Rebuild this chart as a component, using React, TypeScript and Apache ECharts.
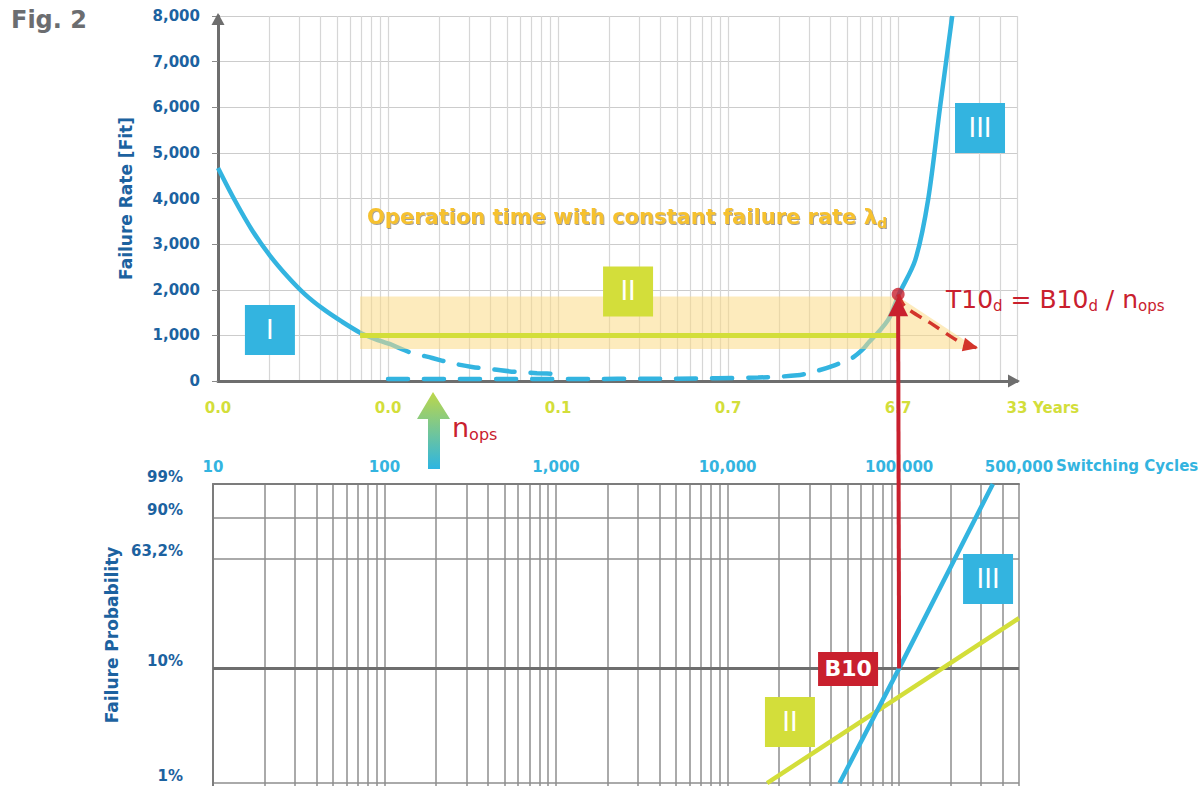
import React, { useEffect, useRef } from 'react';
import * as echarts from 'echarts';

const FONT = "'DejaVu Sans', sans-serif";
const BLUE = '#33b4e0';
const LIME = '#d3de3a';
const RED = '#c9202e';
const NAVY = '#1c62a0';
const AXIS_GRAY = '#6e6e6e';

// ---------------- data ----------------
const cycleTicks = [10, 100, 1000, 10000, 100000, 500000];
const cycleTickLabels = ['10', '100', '1,000', '10,000', '100,000', '500,000'];
const yearTickLabels = ['0.0', '0.0', '0.1', '0.7', '6.7', '33'];
const rateMax = 8000;
const rateStep = 1000;
const probTicks = [1, 10, 63.2, 90, 99];
const probTickLabels = ['1%', '10%', '63,2%', '90%', '99%'];

// failure rate [Fit] vs switching cycles
const phaseISolid: number[][] = [
  [10, 4670], [12.6, 3950], [15.9, 3300], [20.2, 2750], [25.8, 2280],
  [32.5, 1900], [41.5, 1580], [53.6, 1300], [68.5, 1060], [84, 920], [102.8, 810],
];
const phaseIDashed: number[][] = [
  [102.8, 810], [133, 636], [182, 504], [235, 395], [312, 307],
  [415, 255], [567, 197], [752, 172], [1028, 153],
];
const phaseIIIDashed: number[][] = [
  [100, 42], [1000, 45], [5000, 52], [15000, 75], [25500, 125],
  [31600, 197], [42600, 350], [53600, 504], [61400, 680], [66600, 833],
];
const phaseIIISolid: number[][] = [
  [66600, 833], [87300, 1340], [101000, 1900], [126000, 2650],
  [150000, 3970], [176500, 6010], [208000, 8000],
];
const lambdaDLine: number[][] = [[68.5, 1000], [100000, 1000]];
const bandPolygon: number[][] = [[68.5, 1850], [100000, 1850], [295000, 700], [68.5, 700]];
const t10Point: number[] = [100000, 1900];
const t10Arrow: number[][] = [
  [100000, 1900], [110000, 1630], [161000, 1230], [211000, 940], [248000, 790], [295000, 725],
];

// failure probability [%] vs switching cycles (Weibull paper)
const weibullIII: number[][] = [[45000, 1], [100000, 10], [352000, 99]];
const weibullII: number[][] = [[17000, 1], [500000, 25.5]];
const b10Point: number[] = [100000, 10];

// ---------------- helpers ----------------
const lx = (c: number) => Math.log10(c);
const wb = (p: number) => Math.log(-Math.log(1 - p / 100));
const X_MIN = lx(cycleTicks[0]);
const X_MAX = lx(cycleTicks[cycleTicks.length - 1]);
const P_MIN = -4.66;
const P_MAX = wb(probTicks[probTicks.length - 1]);

const minorCycles: number[] = [];
for (let e = 1; e <= 5; e++) {
  for (let k = 1; k <= 9; k++) {
    const v = k * Math.pow(10, e);
    if (v <= cycleTicks[cycleTicks.length - 1]) minorCycles.push(v);
  }
}

const labelFor = (labels: string[]) => (v: number) => {
  const i = cycleTicks.findIndex((c) => Math.abs(lx(c) - v) < 1e-6);
  return i < 0 ? '' : labels[i];
};
const probLabelFor = (v: number) => {
  const i = probTicks.findIndex((p) => Math.abs(wb(p) - v) < 1e-6);
  return i < 0 ? '' : probTickLabels[i];
};

const top = (arr: number[][]) => arr.map(([c, v]) => [lx(c), v]);
const bot = (arr: number[][]) => arr.map(([c, p]) => [lx(c), wb(p)]);

const boxLabel = (size: number, bold = false) => ({
  show: true,
  position: 'inside',
  formatter: '{b}',
  color: '#ffffff',
  fontSize: size,
  fontWeight: bold ? 'bold' : 'normal',
  fontFamily: FONT,
});

const SMOOTH = 0.3;

const option: any = {
  animation: false,
  backgroundColor: '#ffffff',
  textStyle: { fontFamily: FONT },
  grid: [
    { left: 218, top: 16, width: 799, height: 365, outerBoundsMode: 'none', containLabel: false },
    { left: 213, top: 484, width: 806, height: 302, outerBoundsMode: 'none', containLabel: false },
  ],
  xAxis: [
    {
      type: 'value', gridIndex: 0, min: X_MIN, max: X_MAX, position: 'bottom',
      axisLine: {
        show: true, onZero: false, lineStyle: { color: AXIS_GRAY, width: 3 },
        symbol: ['none', 'triangle'], symbolSize: [13, 12], symbolOffset: [0, -3],
      },
      axisTick: { show: false, customValues: minorCycles.map(lx) },
      axisLabel: {
        customValues: cycleTicks.map(lx), formatter: labelFor(yearTickLabels),
        color: LIME, fontSize: 15, fontWeight: 'bold', fontFamily: FONT, margin: 19,
      },
      splitLine: { show: true, lineStyle: { color: '#d6d6d6', width: 1.2 } },
    },
    {
      type: 'value', gridIndex: 1, min: X_MIN, max: X_MAX, position: 'top',
      axisLine: { show: true, onZero: false, lineStyle: { color: '#7c7c7c', width: 2 } },
      axisTick: { show: false, customValues: minorCycles.map(lx) },
      axisLabel: {
        customValues: cycleTicks.map(lx), formatter: labelFor(cycleTickLabels),
        color: BLUE, fontSize: 15, fontWeight: 'bold', fontFamily: FONT, margin: 10,
      },
      splitLine: { show: true, lineStyle: { color: '#8e8e8e', width: 1.5 } },
    },
  ],
  yAxis: [
    {
      type: 'value', gridIndex: 0, min: 0, max: rateMax, interval: rateStep,
      axisLine: {
        show: true, onZero: false, lineStyle: { color: AXIS_GRAY, width: 3 },
        symbol: ['none', 'triangle'], symbolSize: [13, 12], symbolOffset: [0, -3],
      },
      axisTick: { show: true, length: 6, lineStyle: { color: '#8a8a8a', width: 1 } },
      axisLabel: {
        color: NAVY, fontSize: 15, fontWeight: 'bold', fontFamily: FONT, margin: 18,
        formatter: (v: number) => v.toLocaleString('en-US'),
      },
      splitLine: { show: true, lineStyle: { color: '#cccccc', width: 1.2 } },
      name: 'Failure Rate [Fit]', nameLocation: 'middle', nameGap: 84,
      nameTextStyle: { color: NAVY, fontSize: 17, fontWeight: 'bold', fontFamily: FONT },
    },
    {
      type: 'value', gridIndex: 1, min: P_MIN, max: P_MAX,
      axisLine: { show: true, onZero: false, lineStyle: { color: '#7c7c7c', width: 2 } },
      axisTick: { show: false, customValues: probTicks.map(wb) },
      axisLabel: {
        customValues: probTicks.map(wb), formatter: probLabelFor,
        color: NAVY, fontSize: 15, fontWeight: 'bold', fontFamily: FONT, margin: 30,
        verticalAlign: 'bottom',
      },
      splitLine: { show: true, lineStyle: { color: '#8e8e8e', width: 1.5 } },
      name: 'Failure Probability', nameLocation: 'middle', nameGap: 92,
      nameTextStyle: { color: NAVY, fontSize: 17, fontWeight: 'bold', fontFamily: FONT },
    },
  ],
  series: [
    {
      name: 'Phase I', type: 'line', xAxisIndex: 0, yAxisIndex: 0, z: 2,
      data: top(phaseISolid), smooth: SMOOTH, symbol: 'none',
      lineStyle: { color: BLUE, width: 4.5 },
    },
    {
      name: 'Phase I (dashed)', type: 'line', xAxisIndex: 0, yAxisIndex: 0, z: 2,
      data: top(phaseIDashed), smooth: SMOOTH, symbol: 'none',
      lineStyle: { color: BLUE, width: 4.5, type: [20, 16], cap: 'round' },
    },
    {
      name: 'Phase III (dashed)', type: 'line', xAxisIndex: 0, yAxisIndex: 0, z: 2,
      data: top(phaseIIIDashed), smooth: SMOOTH, symbol: 'none',
      lineStyle: { color: BLUE, width: 4.5, type: [20, 16], cap: 'round' },
    },
    {
      name: 'Phase III', type: 'line', xAxisIndex: 0, yAxisIndex: 0, z: 2,
      data: top(phaseIIISolid), smooth: SMOOTH, symbol: 'none',
      lineStyle: { color: BLUE, width: 4.5 },
    },
    {
      name: 'band', type: 'custom', xAxisIndex: 0, yAxisIndex: 0, z: 3, silent: true,
      data: [[X_MIN, 0]],
      renderItem: (_p: any, api: any) => ({
        type: 'polygon',
        shape: { points: bandPolygon.map(([c, v]) => api.coord([lx(c), v])) },
        style: { fill: 'rgba(252,218,135,0.55)' },
      }),
    },
    {
      name: 'lambda d', type: 'line', xAxisIndex: 0, yAxisIndex: 0, z: 4,
      data: top(lambdaDLine), symbol: 'none',
      lineStyle: { color: LIME, width: 5 },
      markPoint: {
        symbol: 'rect', silent: true,
        data: [
          { name: 'I', coord: [lx(20.2), 1118], symbolSize: [50, 50], itemStyle: { color: BLUE }, label: boxLabel(26) },
          { name: 'II', coord: [lx(2580), 1963], symbolSize: [50, 50], itemStyle: { color: LIME }, label: boxLabel(26) },
          { name: 'III', coord: [lx(303000), 5545], symbolSize: [50, 50], itemStyle: { color: BLUE }, label: boxLabel(26) },
        ],
      },
    },
    {
      name: 'T10 shift', type: 'line', xAxisIndex: 0, yAxisIndex: 0, z: 5,
      data: top(t10Arrow), smooth: SMOOTH, symbol: 'none',
      lineStyle: { color: '#d3352b', width: 3.5, type: [13, 8] },
    },
    {
      name: 'T10 point', type: 'scatter', xAxisIndex: 0, yAxisIndex: 0, z: 5,
      data: [[lx(t10Point[0]), t10Point[1]]], symbolSize: 13,
      itemStyle: { color: RED },
    },
    {
      name: '10% line', type: 'line', xAxisIndex: 1, yAxisIndex: 1, z: 1,
      data: [[X_MIN, wb(b10Point[1])], [X_MAX, wb(b10Point[1])]], symbol: 'none',
      lineStyle: { color: '#6e6e6e', width: 3 },
    },
    {
      name: 'Weibull II', type: 'line', xAxisIndex: 1, yAxisIndex: 1, z: 3,
      data: bot(weibullII), symbol: 'none',
      lineStyle: { color: LIME, width: 4.5 },
      markPoint: {
        symbol: 'rect', silent: true,
        data: [
          { name: 'II', coord: [lx(23100), wb(3.45)], symbolSize: [50, 50], itemStyle: { color: LIME }, label: boxLabel(26) },
          { name: 'III', coord: [lx(330000), wb(48.2)], symbolSize: [50, 50], itemStyle: { color: BLUE }, label: boxLabel(26) },
          { name: 'B10', coord: [lx(50400), wb(9.9)], symbolSize: [60, 34], itemStyle: { color: RED }, label: boxLabel(22, true) },
        ],
      },
    },
    {
      name: 'Weibull III', type: 'line', xAxisIndex: 1, yAxisIndex: 1, z: 3,
      data: bot(weibullIII), symbol: 'none',
      lineStyle: { color: BLUE, width: 4.5 },
    },
  ],
};

export default function App() {
  const ref = useRef<HTMLDivElement>(null);
  useEffect(() => {
    document.body.style.margin = '0';
    const chart = echarts.init(ref.current as HTMLDivElement, null, { renderer: 'svg' });
    chart.setOption(option);

    const toTop = (c: number, v: number) =>
      chart.convertToPixel({ xAxisIndex: 0, yAxisIndex: 0 } as any, [lx(c), v]) as number[];
    const toBot = (c: number, p: number) =>
      chart.convertToPixel({ xAxisIndex: 1, yAxisIndex: 1 } as any, [lx(c), wb(p)]) as number[];

    const pB = toBot(b10Point[0], b10Point[1]);
    const pT = toTop(t10Point[0], t10Point[1]);
    const tipY = pT[1] + 2;
    const a1 = toTop(t10Arrow[t10Arrow.length - 2][0], t10Arrow[t10Arrow.length - 2][1]);
    const a2 = toTop(t10Arrow[t10Arrow.length - 1][0], t10Arrow[t10Arrow.length - 1][1]);
    const ang = Math.atan2(a2[1] - a1[1], a2[0] - a1[0]);
    const hl = 15, hw = 7;
    const bx = a2[0] - hl * Math.cos(ang), by = a2[1] - hl * Math.sin(ang);
    const nx = -Math.sin(ang), ny = Math.cos(ang);

    const topEnd = toTop(cycleTicks[cycleTicks.length - 1], 0);
    const botEnd = toBot(cycleTicks[cycleTicks.length - 1], probTicks[probTicks.length - 1]);

    const sub = (fs: number, bold = false, fill = RED) => ({
      fontSize: fs, lineHeight: 2, verticalAlign: 'bottom', fill, fontFamily: FONT,
      fontWeight: bold ? 'bold' : 'normal',
    });

    chart.setOption({
      graphic: [
        {
          type: 'text', z: 20,
          style: { text: 'Fig. 2', x: 11, y: 8, fill: '#6b6d70', fontSize: 24, fontWeight: 'bold', fontFamily: FONT, verticalAlign: 'top', textVerticalAlign: 'top' },
        },
        {
          type: 'text', z: 20,
          style: { text: 'Years', x: topEnd[0] + 16, y: topEnd[1] + 27, fill: LIME, fontSize: 15, fontWeight: 'bold', fontFamily: FONT, verticalAlign: 'middle', textVerticalAlign: 'middle' },
        },
        {
          type: 'text', z: 20,
          style: { text: 'Switching Cycles', x: botEnd[0] + 37, y: botEnd[1] - 18, fill: BLUE, fontSize: 15, fontWeight: 'bold', fontFamily: FONT, verticalAlign: 'middle', textVerticalAlign: 'middle' },
        },
        {
          type: 'text', z: 20,
          style: {
            text: '{m|Operation time with constant failure rate λ}{s|d}', x: 367, y: 204,
            verticalAlign: 'top', textVerticalAlign: 'top',
            textShadowColor: 'rgba(90,80,60,0.55)', textShadowOffsetX: 1, textShadowOffsetY: 1, textShadowBlur: 1,
            rich: {
              m: { fontSize: 21, lineHeight: 26, fill: '#f6c12f', fontWeight: 'bold', fontFamily: FONT },
              s: sub(14, true, '#f6c12f'),
            },
          },
        },
        {
          type: 'text', z: 20,
          style: {
            text: '{m|T10}{s|d}{m| = B10}{s|d}{m| / n}{s|ops}', x: 946, y: 285,
            verticalAlign: 'top', textVerticalAlign: 'top',
            rich: {
              m: { fontSize: 25, lineHeight: 28, fill: RED, fontFamily: FONT },
              s: sub(15),
            },
          },
        },
        {
          type: 'polygon', z: 20,
          shape: { points: [[433, 392], [417, 419], [428, 419], [428, 469], [440, 469], [440, 419], [450, 419]] },
          style: {
            fill: new echarts.graphic.LinearGradient(0, 0, 0, 1, [
              { offset: 0, color: '#bdd749' },
              { offset: 1, color: '#2db5e2' },
            ]),
          },
        },
        {
          type: 'text', z: 20,
          style: {
            text: '{m|n}{s|ops}', x: 452, y: 412,
            verticalAlign: 'top', textVerticalAlign: 'top',
            rich: {
              m: { fontSize: 27, lineHeight: 30, fill: RED, fontFamily: FONT },
              s: sub(16),
            },
          },
        },
        {
          type: 'line', z: 20,
          shape: { x1: pB[0], y1: pB[1], x2: pT[0], y2: tipY + 16 },
          style: { stroke: RED, lineWidth: 4 },
        },
        {
          type: 'polygon', z: 20,
          shape: { points: [[pT[0], tipY], [pT[0] - 10, tipY + 20], [pT[0] + 10, tipY + 20]] },
          style: { fill: RED },
        },
        {
          type: 'polygon', z: 20,
          shape: {
            points: [
              [a2[0], a2[1]],
              [bx + hw * nx, by + hw * ny],
              [bx - hw * nx, by - hw * ny],
            ],
          },
          style: { fill: '#d3352b' },
        },
      ],
    });
    return () => chart.dispose();
  }, []);
  return <div ref={ref} style={{ width: 1201, height: 786, background: '#ffffff' }} />;
}
